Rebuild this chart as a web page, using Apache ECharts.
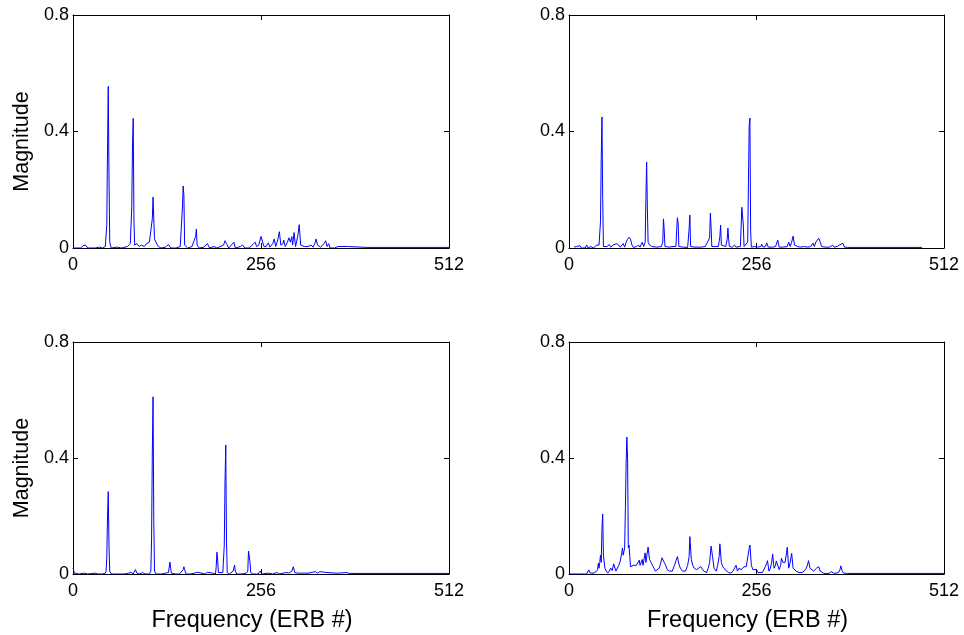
<!DOCTYPE html>
<html>
<head>
<meta charset="utf-8">
<script src="https://cdn.jsdelivr.net/npm/echarts@6/dist/echarts.min.js"></script>
<style>html,body{margin:0;padding:0;background:#fff}#c{width:964px;height:635px}</style>
</head>
<body>
<div id="c"></div>
<script>
// Tick labels
const xTicks = [0, 256, 512];
const yTicks = [0, 0.4, 0.8];
const xLabel = 'Frequency (ERB #)';
const yLabel = 'Magnitude';

// Panel 1 (top-left)
const freq1 = [0,10,14,17,20,30,36,40,44,46,47,48,49,50,52,60,66,74,78,80,81,82,83,84,87,90,93,97,100,104,106,108,109,110,111,113,116,120,126,130,133,140,146,149,150,151,152,156,162,167,168,169,172,178,183,186,192,196,205,207,209,212,219,221,228,231,234,240,248,250,253,256,258,260,263,266,268,272,274,276,279,281,283,286,287,289,292,294,296,298,299,301,303,306,308,310,312,315,320,324,327,330,331,333,335,337,342,344,346,348,350,356,361,363,369,371,375,377,400,512];
const mag1  = [0,0,0.008,0.01,0,0,0.003,0,0.005,0.08,0.34,0.555,0.25,0.02,0,0.003,0,0.005,0.015,0.14,0.35,0.445,0.09,0.01,0.015,0.005,0.01,0.005,0.015,0.02,0.015,0.1,0.175,0.1,0.03,0.02,0.005,0,0.003,0.012,0,0,0.005,0.137,0.213,0.182,0.01,0,0.005,0.04,0.065,0.01,0,0.003,0.015,0,0.005,0,0.01,0.025,0.015,0,0.02,0,0.005,0.01,0,0,0.02,0.005,0.01,0.04,0.045,0.005,0.005,0.018,0.003,0.015,0.031,0.005,0.03,0.056,0.01,0.015,0.027,0.005,0.02,0.035,0.02,0.039,0.01,0.053,0.005,0.04,0.08,0.01,0.015,0.005,0.005,0.01,0.003,0.02,0.031,0.01,0.015,0.003,0.015,0.025,0.005,0.015,0,0,0.005,0,0.005,0,0.005,0.002,0.002,0.002];

// Panel 2 (top-right)
const freq2 = [7,10,12,15,17,22,24,26,30,33,38,41,43,44,45,46,47,52,55,57,60,62,65,68,70,74,76,78,80,82,84,86,88,92,95,97,100,102,104,105,106,107,108,110,113,120,126,128,129,130,131,136,142,146,147,148,149,150,156,162,164,165,166,172,180,186,188,192,193,194,195,200,204,206,207,208,210,214,216,217,218,219,223,226,228,234,236,237,238,239,244,245,246,247,248,249,253,255,257,262,263,265,268,270,272,278,282,285,287,292,298,300,302,304,306,308,312,316,320,326,330,333,335,337,339,341,343,345,350,356,360,362,366,369,371,374,376,380,482];
const mag2  = [0.003,0.005,0,0.008,0,0,0.01,0,0.005,0,0.01,0.01,0.09,0.31,0.45,0.17,0.005,0.005,0.012,0.003,0.01,0.005,0.015,0.01,0.003,0.015,0.003,0.02,0.03,0.037,0.03,0.01,0.002,0.005,0.01,0.003,0.02,0.005,0.02,0.17,0.295,0.137,0.02,0.01,0.005,0.003,0.005,0.02,0.1,0.062,0.005,0.003,0.005,0.005,0.06,0.104,0.086,0.005,0.003,0.002,0.065,0.113,0.005,0.003,0.003,0.005,0.002,0.035,0.12,0.072,0.005,0.005,0.005,0.04,0.079,0.01,0.005,0.005,0.03,0.068,0.03,0.005,0.003,0.01,0.003,0.005,0.14,0.14,0.079,0.005,0.02,0.224,0.42,0.446,0.056,0.003,0.005,0.01,0.003,0.005,0.013,0.003,0.005,0.017,0.003,0.003,0.005,0.027,0.003,0.003,0.005,0.02,0.005,0.02,0.041,0.01,0.005,0.003,0.005,0.003,0.005,0.017,0.005,0.02,0.025,0.034,0.02,0.005,0.003,0.003,0.01,0.003,0.005,0.01,0.005,0.016,0.003,0.002,0.002];

// Panel 3 (bottom-left)
const freq3 = [0,2,8,15,20,30,34,40,44,45,46,47,48,49,50,52,60,70,76,79,82,85,87,91,95,98,104,106,107,108,109,110,111,113,120,126,130,132,133,134,140,145,150,151,152,154,160,165,170,172,180,183,185,190,194,195,196,197,198,200,204,206,207,208,209,210,213,218,220,221,223,230,236,238,239,240,241,242,245,252,255,257,266,272,278,281,290,294,298,300,302,306,312,320,330,333,336,338,346,348,360,373,376,512];
const mag3  = [0.02,0.003,0,0.003,0,0.003,0,0,0.003,0.01,0.056,0.197,0.284,0.1,0.01,0,0,0,0.003,0.006,0,0.015,0.003,0,0.005,0,0,0.01,0.124,0.418,0.611,0.18,0.01,0,0,0.003,0.005,0.041,0.02,0.003,0,0,0.015,0.025,0.015,0,0,0.003,0.006,0,0,0.006,0,0.003,0,0.025,0.075,0.048,0.005,0,0.005,0.1,0.32,0.445,0.117,0.005,0,0.01,0.031,0.01,0,0,0.003,0.01,0.079,0.079,0.042,0.005,0,0,0.01,0,0.003,0,0.005,0,0.005,0.003,0.01,0.025,0.005,0.003,0.003,0.003,0.008,0.003,0.008,0.002,0.005,0.002,0.003,0.005,0.002,0.002];

// Panel 4 (bottom-right)
const freq4 = [0,24,26,27,29,34,37,39,40,41,42,43,44,45,46,47,48,49,51,53,55,57,59,61,62,64,66,68,70,72,73,74,75,76,77,78,79,80,81,82,83,84,86,88,90,92,94,96,97,99,100,101,102,104,105,107,108,109,110,112,114,116,118,120,123,125,127,129,130,132,134,137,141,144,146,148,150,152,155,159,162,164,165,167,169,171,174,177,180,182,184,188,190,192,194,196,198,201,203,205,206,208,210,212,215,218,221,224,226,228,230,232,233,235,237,239,240,242,244,246,247,249,251,253,256,258,261,264,266,268,270,271,273,275,277,278,280,282,283,285,287,289,290,292,294,295,297,298,300,302,304,306,308,310,314,318,321,324,326,327,329,331,334,336,338,340,341,343,345,348,355,358,360,362,368,370,371,373,375,380,512];
const mag4  = [0,0,0.005,0.014,0.003,0.003,0.008,0.015,0.037,0.02,0.04,0.065,0.04,0.155,0.207,0.065,0.06,0.02,0.01,0.003,0.01,0.02,0.012,0.035,0.03,0.01,0.015,0.03,0.045,0.072,0.09,0.065,0.07,0.09,0.23,0.38,0.472,0.397,0.09,0.1,0.06,0.025,0.025,0.03,0.025,0.03,0.025,0.048,0.03,0.035,0.05,0.03,0.045,0.073,0.04,0.035,0.093,0.07,0.05,0.04,0.035,0.02,0.01,0.015,0.02,0.035,0.056,0.06,0.04,0.03,0.015,0.01,0.01,0.03,0.045,0.06,0.035,0.02,0.01,0.01,0.03,0.06,0.129,0.05,0.03,0.02,0.015,0.02,0.025,0.02,0.01,0.005,0.02,0.04,0.096,0.06,0.02,0.01,0.03,0.06,0.104,0.04,0.025,0.02,0.01,0.005,0.003,0.01,0.02,0.03,0.01,0.02,0.025,0.015,0.02,0.025,0.03,0.025,0.03,0.088,0.1,0.03,0.015,0.01,0.015,0.005,0.005,0.005,0.01,0.025,0.037,0.046,0.01,0.02,0.045,0.069,0.02,0.03,0.045,0.05,0.015,0.03,0.055,0.04,0.035,0.04,0.073,0.092,0.02,0.04,0.071,0.02,0.015,0.01,0.005,0.005,0.01,0.02,0.035,0.046,0.02,0.015,0.01,0.01,0.02,0.015,0.025,0.01,0.005,0.002,0.002,0.008,0.01,0.002,0.005,0.015,0.028,0.01,0.003,0.002,0.002];

const panels = [
  {f: freq1, m: mag1, left: 73, top: 15, width: 376, height: 233, xName: false, yName: true},
  {f: freq2, m: mag2, left: 569, top: 15, width: 375, height: 233, xName: false, yName: false},
  {f: freq3, m: mag3, left: 73, top: 342, width: 376, height: 232, xName: true, yName: true},
  {f: freq4, m: mag4, left: 569, top: 342, width: 375, height: 232, xName: true, yName: false}
];

const FONT = 'Liberation Sans';
const axisLine = {show: true, onZero: false, lineStyle: {color: '#000', width: 1}};
const tick = {show: true, inside: true, length: 5, lineStyle: {color: '#000', width: 1}};

const grid = [], xAxis = [], yAxis = [], series = [];
panels.forEach((p, i) => {
  grid.push({left: p.left, top: p.top, width: p.width, height: p.height, containLabel: false});
  const xBase = {gridIndex: i, type: 'value', min: xTicks[0], max: xTicks[xTicks.length-1], interval: xTicks[1]-xTicks[0],
    axisLine: axisLine, axisTick: tick, splitLine: {show: false}};
  const yBase = {gridIndex: i, type: 'value', min: yTicks[0], max: yTicks[yTicks.length-1], interval: yTicks[1]-yTicks[0],
    axisLine: axisLine, axisTick: tick, splitLine: {show: false}};
  xAxis.push(Object.assign({}, xBase, {position: 'bottom',
    axisLabel: {show: true, color: '#000', fontFamily: FONT, fontSize: 18, margin: 8},
    name: p.xName ? xLabel : '', nameLocation: 'middle', nameGap: 35,
    nameTextStyle: {color: '#000', fontFamily: FONT, fontSize: 23.5, verticalAlign: 'top', padding: [0, 18, 0, 0]}}));
  xAxis.push(Object.assign({}, xBase, {position: 'top', axisLabel: {show: false}}));
  yAxis.push(Object.assign({}, yBase, {position: 'left',
    axisLabel: {show: true, color: '#000', fontFamily: FONT, fontSize: 18, margin: 4},
    name: p.yName ? yLabel : '', nameLocation: 'middle', nameGap: 40, nameRotate: 90,
    nameTextStyle: {color: '#000', fontFamily: FONT, fontSize: 21.5, padding: [0, 20, 0, 0]}}));
  yAxis.push(Object.assign({}, yBase, {position: 'right', axisLabel: {show: false}}));
  series.push({type: 'line', xAxisIndex: 2*i, yAxisIndex: 2*i, showSymbol: false, symbol: 'none',
    lineStyle: {color: '#0000ff', width: 1}, itemStyle: {color: '#0000ff'},
    data: p.f.map((x, k) => [x, p.m[k]]), animation: false, z: 5});
});

const chart = echarts.init(document.getElementById('c'), null, {renderer: 'canvas'});
chart.setOption({animation: false, backgroundColor: '#fff', grid, xAxis, yAxis, series});
</script>
</body>
</html>
